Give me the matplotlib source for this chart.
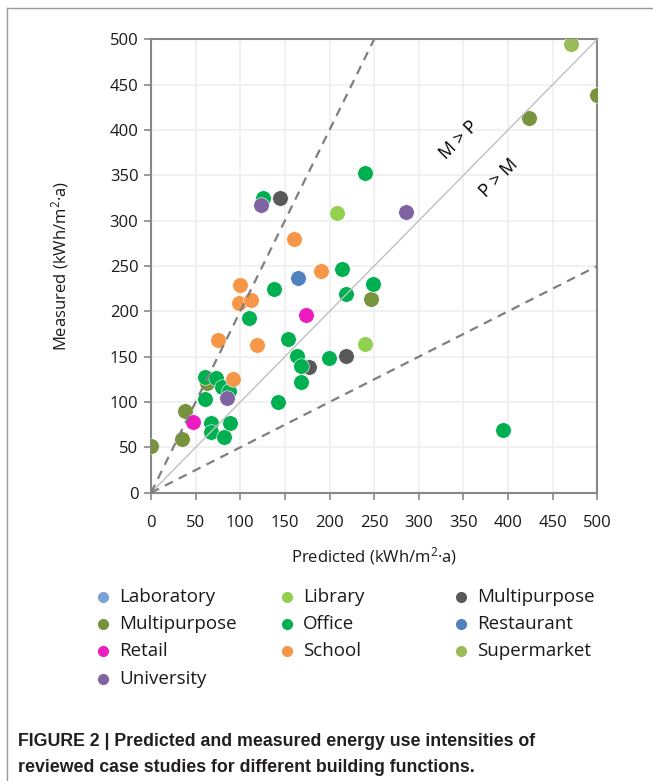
import matplotlib
matplotlib.use("Agg")
import matplotlib.pyplot as plt
from matplotlib.lines import Line2D

plt.rcParams['font.family'] = ['Open Sans', 'DejaVu Sans']
plt.rcParams['mathtext.default'] = 'regular'

# categories and colours (legend order, row by row)
categories = ['Laboratory', 'Library', 'Multipurpose', 'Multipurpose', 'Office',
              'Restaurant', 'Retail', 'School', 'Supermarket', 'University']
colors = ['#7BA3D6', '#92D050', '#595959', '#77933C', '#00B050',
          '#4F81BD', '#EC1CC0', '#F79646', '#9BBB59', '#8064A2']

# predicted (x) / measured (y) per category
lab_x, lab_y = [], []
library_x = [208, 240]
library_y = [309, 164]
multi_dark_x = [145, 177, 218]
multi_dark_y = [325, 139, 151]
multi_olive_x = [0, 35, 38, 63, 246, 423, 500]
multi_olive_y = [52, 59, 90, 121, 214, 413, 439]
office_x = [125, 240, 214, 249, 218, 138, 110, 153, 164, 168, 199, 168, 142,
            60, 73, 80, 87, 60, 67, 89, 67, 82, 394]
office_y = [325, 353, 247, 230, 219, 225, 193, 170, 151, 140, 149, 122, 100,
            128, 127, 117, 112, 103, 77, 77, 67, 61, 69]
restaurant_x = [165]
restaurant_y = [237]
retail_x = [174, 47]
retail_y = [196, 78]
school_x = [160, 190, 100, 99, 112, 75, 119, 92]
school_y = [280, 245, 229, 209, 212, 168, 163, 125]
supermarket_x = [471]
supermarket_y = [495]
university_x = [123, 286, 85]
university_y = [317, 310, 104]

series_x = [lab_x, library_x, multi_dark_x, multi_olive_x, office_x,
            restaurant_x, retail_x, school_x, supermarket_x, university_x]
series_y = [lab_y, library_y, multi_dark_y, multi_olive_y, office_y,
            restaurant_y, retail_y, school_y, supermarket_y, university_y]

ticks = [0, 50, 100, 150, 200, 250, 300, 350, 400, 450, 500]

fig = plt.figure(figsize=(6.53, 7.81), dpi=100)
ax = fig.add_axes([0.2312, 0.3691, 0.6835, 0.5806])

# scatter points
for xs, ys, c in zip(series_x, series_y, colors):
    ax.scatter(xs, ys, s=125, color=c, edgecolors='white', linewidths=0.4, zorder=3)

# reference lines
ax.plot([0, 500], [0, 500], color='#C0C0C0', lw=1.0, zorder=4)
ax.plot([0, 250], [0, 500], color='#7F7F7F', lw=1.6, ls=(0, (4, 3)), zorder=4)
ax.plot([0, 500], [0, 250], color='#7F7F7F', lw=1.6, ls=(0, (4, 3)), zorder=4)

ax.text(345, 389, 'M > P', rotation=45, ha='center', va='center', fontsize=13)
ax.text(390, 347, 'P > M', rotation=45, ha='center', va='center', fontsize=13)

ax.set_xlim(0, 500)
ax.set_ylim(0, 500)
ax.set_xticks(ticks)
ax.set_yticks(ticks)
ax.grid(True, color='#EFEFEF', lw=1.2, zorder=0)
ax.set_axisbelow(True)
for sp in ax.spines.values():
    sp.set_color('#878787')
    sp.set_linewidth(1.5)
ax.tick_params(axis='both', colors='#878787', length=5, width=1.2,
               labelcolor='#1A1A1A', labelsize=12)
ax.tick_params(axis='x', pad=11)
ax.tick_params(axis='y', pad=4)

ax.set_xlabel('Predicted (kWh/m$^{2}$·a)', fontsize=12, color='#1A1A1A', labelpad=10)
ax.set_ylabel('Measured (kWh/m$^{2}$·a)', fontsize=12, color='#1A1A1A', labelpad=28)

# legend laid out manually, row by row
col_x = [103, 287, 461]
row_y = [597, 624, 651, 679]
W, H = 653.0, 781.0
for i, (name, c) in enumerate(zip(categories, colors)):
    r, k = divmod(i, 3)
    mx = col_x[k] / W
    my = 1 - row_y[r] / H
    fig.add_artist(Line2D([mx], [my], marker='o', ms=7, color=c, ls='none',
                          transform=fig.transFigure))
    fig.text(mx + 16 / W, my, name, fontsize=13.5, va='center', ha='left',
             color='#1A1A1A')

# frame around the figure
fig.add_artist(Line2D([7 / W, 7 / W], [0, 1 - 8 / H], color='#9A9A9A', lw=1.0,
                      transform=fig.transFigure))
fig.add_artist(Line2D([7 / W, 1], [1 - 8 / H, 1 - 8 / H], color='#9A9A9A', lw=1.0,
                      transform=fig.transFigure))

cap_font = ['Liberation Sans Narrow', 'Liberation Sans', 'DejaVu Sans']
fig.text(18 / W, 1 - 742 / H,
         'FIGURE 2 | Predicted and measured energy use intensities of',
         family=cap_font, fontweight='bold', fontsize=12.8, va='center',
         color='#231F20')
fig.text(18 / W, 1 - 768 / H,
         'reviewed case studies for different building functions.',
         family=cap_font, fontweight='bold', fontsize=12.8, va='center',
         color='#231F20')

fig.savefig('out.png', dpi=100)
